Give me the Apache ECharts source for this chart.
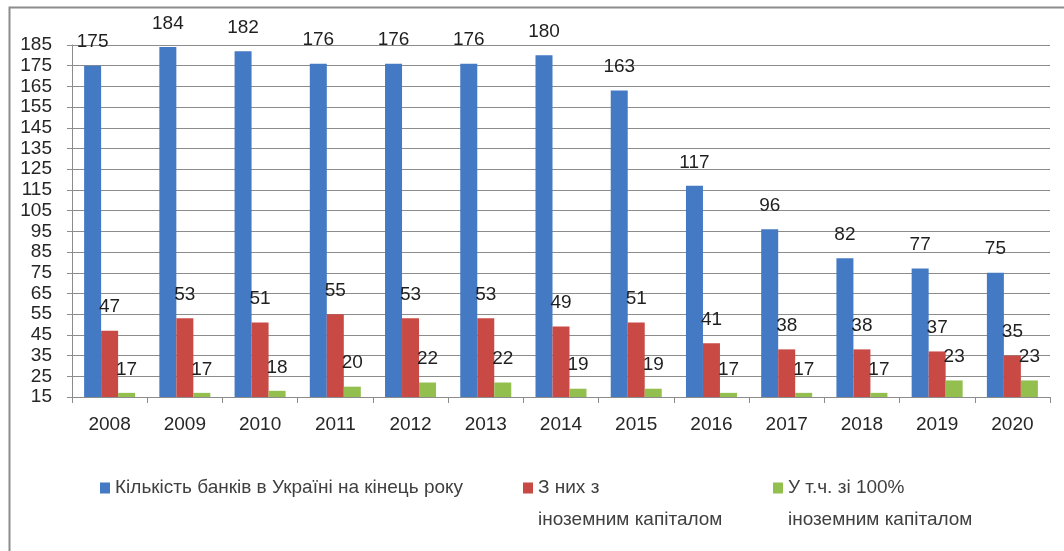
<!DOCTYPE html>
<html>
<head>
<meta charset="utf-8">
<script src="https://cdn.jsdelivr.net/npm/echarts@6/dist/echarts.min.js"></script>
<style>
html,body{margin:0;padding:0;background:#fff;}
#chart{width:1064px;height:551px;}
</style>
</head>
<body>
<div id="chart"></div>
<script>
const years = ['2008','2009','2010','2011','2012','2013','2014','2015','2016','2017','2018','2019','2020'];
const banksTotal = [175,184,182,176,176,176,180,163,117,96,82,77,75];
const banksForeign = [47,53,51,55,53,53,49,51,41,38,38,37,35];
const banksForeign100 = [17,17,18,20,22,22,19,19,17,17,17,23,23];
const yTicks = [15,25,35,45,55,65,75,85,95,105,115,125,135,145,155,165,175,185];
const seriesNames = [
  'Кількість банків в Україні на кінець року',
  'З них з\nіноземним капіталом',
  'У т.ч. зі 100%\nіноземним капіталом'
];

const FONT = '"Liberation Sans", Arial, sans-serif';
const chart = echarts.init(document.getElementById('chart'));

const labelStyle = {
  show: true, position: 'top', distance: 14,
  color: '#1f1f1f', fontSize: 19, fontFamily: FONT
};
const legendText = {color: '#404040', fontSize: 19, fontFamily: FONT, lineHeight: 32};
// leading empty line keeps the first text line level with the legend icon
const twoLine = name => '\n' + name;

chart.setOption({
  animation: false,
  backgroundColor: '#fff',
  graphic: [{
    type: 'rect', left: 7, top: 5,
    shape: {width: 1200, height: 700},
    style: {fill: 'none', stroke: '#8c8c8c', lineWidth: 2},
    silent: true
  }],
  grid: {left: 72, right: 14, top: 45, bottom: 154},
  legend: [
    {data: [seriesNames[0]], left: 95, top: 467, itemWidth: 10, itemHeight: 11, icon: 'rect', textStyle: legendText, selectedMode: false},
    {data: [seriesNames[1]], left: 518, top: 435, itemWidth: 10, itemHeight: 11, icon: 'rect', textStyle: legendText, formatter: twoLine, selectedMode: false},
    {data: [seriesNames[2]], left: 768, top: 435, itemWidth: 10, itemHeight: 11, icon: 'rect', textStyle: legendText, formatter: twoLine, selectedMode: false}
  ],
  xAxis: {
    type: 'category', data: years,
    axisLine: {lineStyle: {color: '#8c8c8c', width: 1}},
    axisTick: {show: true, alignWithLabel: false, length: 6, lineStyle: {color: '#8c8c8c'}},
    axisLabel: {color: '#262626', fontSize: 19, fontFamily: FONT, margin: 18}
  },
  yAxis: {
    type: 'value', min: 15, max: 185,
    axisLine: {show: true, lineStyle: {color: '#8c8c8c', width: 1}},
    axisTick: {show: true, length: 5, customValues: yTicks, lineStyle: {color: '#8c8c8c'}},
    axisLabel: {color: '#262626', fontSize: 19, fontFamily: FONT, margin: 20, customValues: yTicks},
    splitLine: {show: true, lineStyle: {color: '#8c8c8c', width: 1}}
  },
  series: [
    {name: seriesNames[0], type: 'bar', data: banksTotal, barWidth: 17, barGap: '0%', itemStyle: {color: '#4479c4'}, label: labelStyle},
    {name: seriesNames[1], type: 'bar', data: banksForeign, barWidth: 17, barGap: '0%', itemStyle: {color: '#c94a45'}, label: labelStyle},
    {name: seriesNames[2], type: 'bar', data: banksForeign100, barWidth: 17, barGap: '0%', itemStyle: {color: '#93bf4f'}, label: labelStyle}
  ]
});
</script>
</body>
</html>
